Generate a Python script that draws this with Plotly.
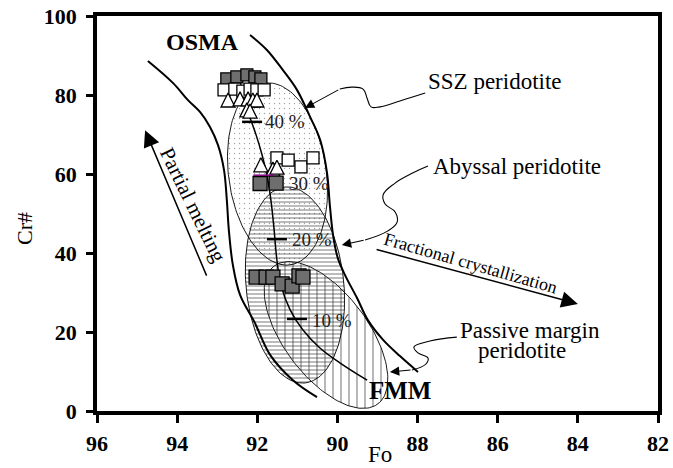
import numpy as np
import plotly.graph_objects as go

# ---------------- data ----------------
fo_ticks = [96, 94, 92, 90, 88, 86, 84, 82]
cr_ticks = [0, 20, 40, 60, 80, 100]

# OSMA band boundaries
osma_left_fo = [94.73, 94.10, 93.73, 93.43, 93.18, 92.98, 92.83, 92.76, 92.71, 92.61, 92.43, 92.06, 91.68, 91.11, 90.51]
osma_left_cr = [88.6, 83.0, 78.7, 75.7, 71.9, 67.3, 61.0, 53.4, 45.8, 37.0, 29.4, 22.3, 14.2, 7.8, 3.5]
osma_right_fo = [92.18, 91.76, 91.36, 91.01, 90.68, 90.43, 90.26, 90.19, 90.11, 89.99, 89.81, 89.51, 89.24, 88.86, 88.44, 87.99]
osma_right_cr = [95.2, 91.4, 86.3, 81.3, 74.4, 68.6, 60.3, 52.2, 44.6, 38.7, 34.4, 28.6, 23.0, 18.0, 13.9, 9.9]

# melting trend from FMM
melt_fo = [92.18, 92.03, 91.88, 91.76, 91.66, 91.58, 91.51, 91.41, 91.18, 90.86, 90.43, 89.94, 89.26]
melt_cr = [74.2, 69.9, 64.8, 59.7, 53.4, 45.8, 38.2, 31.9, 25.6, 20.5, 15.9, 12.2, 7.8]

pct_labels = ["40 %", "30 %", "20 %", "10 %"]
pct_fo = [92.13, 91.85, 91.51, 91.01]
pct_cr = [73.2, 59.7, 43.5, 23.3]
pct_label_fo = [91.86, 91.26, 91.18, 90.68]
pct_label_cr = [73.2, 57.7, 43.5, 23.0]

# peridotite fields: major-axis end points (Fo, Cr#) and half width (Fo units)
field_names = ["Passive margin", "Abyssal", "SSZ"]
field_p1_fo = [91.58, 91.31, 91.81]
field_p1_cr = [36.7, 56.7, 83.0]
field_p2_fo = [88.99, 90.81, 91.18]
field_p2_cr = [1.8, 7.1, 37.0]
field_half_width = [1.05, 1.22, 1.22]

# samples
gray_top_fo = [92.76, 92.51, 92.26, 92.06, 91.91]
gray_top_cr = [84.1, 84.6, 85.1, 84.6, 84.1]
white_sq_fo = [92.83, 92.56, 92.36, 92.18, 92.01, 91.83, 91.51, 91.23, 90.91, 90.61]
white_sq_cr = [81.3, 81.5, 81.0, 81.5, 81.3, 81.3, 64.1, 63.5, 61.8, 64.1]
tri_fo = [92.73, 92.43, 92.23, 92.11, 92.01, 92.26, 92.18, 91.91, 91.61, 91.51]
tri_cr = [80.5, 80.8, 80.8, 80.5, 80.5, 78.0, 77.7, 64.1, 63.0, 63.5]
gray_fo = [91.93, 91.53, 92.03, 91.78, 91.61, 91.38, 91.13, 90.96, 90.86]
gray_cr = [57.6, 57.7, 33.9, 33.9, 33.9, 32.2, 31.6, 34.2, 33.9]

# leader lines
ssz_lead_fo = [87.81, 88.44, 88.94, 89.16, 89.26, 89.36, 89.64, 89.94]
ssz_lead_cr = [80.5, 78.5, 77.0, 77.0, 79.2, 81.5, 82.0, 81.5]
ssz_head = (90.81, 76.7)
aby_lead_fo = [87.74, 88.11, 88.56, 88.86, 88.81, 88.56, 88.51, 88.74, 89.31]
aby_lead_cr = [62.0, 60.3, 57.7, 54.7, 52.4, 50.4, 47.8, 45.6, 43.3]
aby_head = (89.89, 42.0)
pm_lead_fo = [87.02, 87.69, 88.09, 87.99, 87.74, 87.79, 88.14]
pm_lead_cr = [18.7, 17.7, 16.2, 14.7, 13.4, 11.9, 10.4]
pm_head = (88.69, 9.9)

melt_arrow_tail = (93.25, 33.9)
melt_arrow_head = (94.80, 71.1)
fc_arrow_tail = (89.06, 41.0)
fc_arrow_head = (84.00, 27.1)

# ---------------- layout constants ----------------
W, H = 673, 468
ML, MR, MT, MB = 97, 15, 16, 57
PW, PH = W - ML - MR, H - MT - MB
X0, X1 = 96, 82
SX = PW / (X0 - X1)
SY = PH / 100.0
SERIF = "Liberation Serif, Times New Roman, serif"

fig = go.Figure()


def ellipse(p1fo, p1cr, p2fo, p2cr, hw):
    u1, v1 = (X0 - p1fo) * SX, p1cr * SY
    u2, v2 = (X0 - p2fo) * SX, p2cr * SY
    cu, cv = (u1 + u2) / 2, (v1 + v2) / 2
    au, av = (u1 - u2) / 2, (v1 - v2) / 2
    a = np.hypot(au, av)
    b = hw * SX
    nu, nv = -av / a * b, au / a * b
    t = np.linspace(0, 2 * np.pi, 160)
    uu = cu + np.cos(t) * au + np.sin(t) * nu
    vv = cv + np.cos(t) * av + np.sin(t) * nv
    return X0 - uu / SX, vv / SY


patterns = [
    dict(shape="|", size=8, solidity=0.14, fgcolor="black"),
    dict(shape="-", size=4, solidity=0.33, fgcolor="#333"),
    dict(shape=".", size=5, solidity=0.06, fgcolor="#444"),
]
for i in range(3):
    ex, ey = ellipse(field_p1_fo[i], field_p1_cr[i], field_p2_fo[i], field_p2_cr[i], field_half_width[i])
    pat = dict(patterns[i])
    pat["bgcolor"] = "rgba(0,0,0,0)"
    fig.add_trace(go.Scatter(x=ex, y=ey, mode="lines", fill="toself",
                             fillcolor="rgba(0,0,0,0)", fillpattern=pat,
                             line=dict(color="black", width=0.9),
                             hoverinfo="skip", showlegend=False, name=field_names[i]))

# OSMA boundaries
for xs, ys in [(osma_left_fo, osma_left_cr), (osma_right_fo, osma_right_cr)]:
    fig.add_trace(go.Scatter(x=xs, y=ys, mode="lines", line=dict(color="black", width=2, shape="spline"),
                             showlegend=False, hoverinfo="skip"))

# melting trend
fig.add_trace(go.Scatter(x=melt_fo, y=melt_cr, mode="lines", line=dict(color="black", width=1.5, shape="spline"),
                         showlegend=False, hoverinfo="skip"))

# leader lines
for xs, ys in [(ssz_lead_fo, ssz_lead_cr), (aby_lead_fo, aby_lead_cr), (pm_lead_fo, pm_lead_cr)]:
    fig.add_trace(go.Scatter(x=xs, y=ys, mode="lines", line=dict(color="black", width=1.1, shape="spline", smoothing=1.2),
                             showlegend=False, hoverinfo="skip"))

# samples
fig.add_trace(go.Scatter(x=gray_top_fo, y=gray_top_cr, mode="markers",
                         marker=dict(symbol="square", size=12, color="#6e6e6e", line=dict(color="black", width=1.3)),
                         showlegend=False))
fig.add_trace(go.Scatter(x=white_sq_fo, y=white_sq_cr, mode="markers",
                         marker=dict(symbol="square", size=12, color="white", line=dict(color="black", width=1.3)),
                         showlegend=False))
fig.add_trace(go.Scatter(x=tri_fo, y=tri_cr, mode="markers",
                         marker=dict(symbol="arrow-up", size=14, color="white", line=dict(color="black", width=1.3)),
                         showlegend=False))
fig.add_trace(go.Scatter(x=gray_fo, y=gray_cr, mode="markers",
                         marker=dict(symbol="square", size=14, color="#6e6e6e", line=dict(color="black", width=1.3)),
                         showlegend=False))

# percent ticks on the trend
for i in range(len(pct_fo)):
    col = "#800080" if pct_labels[i] == "30 %" else "black"
    fig.add_trace(go.Scatter(x=[pct_fo[i] + 0.25, pct_fo[i] - 0.25], y=[pct_cr[i], pct_cr[i]], mode="lines",
                             line=dict(color=col, width=2.5 if col == "black" else 1.5),
                             showlegend=False, hoverinfo="skip"))

ann = []
for i in range(len(pct_labels)):
    ann.append(dict(x=pct_label_fo[i], y=pct_label_cr[i], text=pct_labels[i], showarrow=False,
                    xanchor="left", yanchor="middle", font=dict(family=SERIF, size=19, color="#222")))

ann += [
    dict(x=93.37, y=93.4, text="<b>OSMA</b>", showarrow=False, font=dict(family=SERIF, size=24, color="black")),
    dict(x=88.44, y=5.1, text="<b>FMM</b>", showarrow=False, font=dict(family=SERIF, size=25, color="black")),
    dict(x=86.08, y=83.3, text="SSZ peridotite", showarrow=False, font=dict(family=SERIF, size=23, color="black")),
    dict(x=85.52, y=62.0, text="Abyssal peridotite", showarrow=False, font=dict(family=SERIF, size=23, color="black")),
    dict(x=85.19, y=20.3, text="Passive margin", showarrow=False, font=dict(family=SERIF, size=23, color="black")),
    dict(x=85.39, y=15.4, text="peridotite", showarrow=False, font=dict(family=SERIF, size=23, color="black")),
    dict(x=93.60, y=52.2, text="Partial melting", showarrow=False, textangle=64,
         font=dict(family=SERIF, size=21, color="black")),
    dict(x=86.69, y=37.5, text="Fractional crystallization", showarrow=False, textangle=16,
         font=dict(family=SERIF, size=18, color="black")),
    # axis titles
    dict(xref="paper", yref="paper", x=(24 - ML) / PW, y=(MT + PH - 229) / PH, text="Cr#", showarrow=False,
         xanchor="center", yanchor="middle", textangle=-90, font=dict(family=SERIF, size=22, color="black")),
    dict(xref="paper", yref="paper", x=(379.5 - ML) / PW, y=(MT + PH - 455) / PH, text="Fo", showarrow=False,
         xanchor="center", yanchor="middle", font=dict(family=SERIF, size=23, color="black")),
]

# arrows
for head, tail, w in [(melt_arrow_head, melt_arrow_tail, 1.5), (fc_arrow_head, fc_arrow_tail, 1.5),
                      (ssz_head, (ssz_lead_fo[-1], ssz_lead_cr[-1]), 1.1),
                      (aby_head, (aby_lead_fo[-1], aby_lead_cr[-1]), 1.1),
                      (pm_head, (pm_lead_fo[-1], pm_lead_cr[-1]), 1.1)]:
    ann.append(dict(x=head[0], y=head[1], ax=tail[0], ay=tail[1], xref="x", yref="y", axref="x", ayref="y",
                    text="", showarrow=True, arrowhead=2, arrowsize=2.2 if w > 1.2 else 1.7,
                    arrowwidth=w, arrowcolor="black", standoff=0))

fig.update_layout(
    width=W, height=H,
    margin=dict(l=ML, r=MR, t=MT, b=MB, pad=0, autoexpand=False),
    paper_bgcolor="white", plot_bgcolor="white",
    showlegend=False,
    annotations=ann,
    xaxis=dict(range=[X0, X1], tickvals=fo_ticks, ticktext=[str(v) for v in fo_ticks], automargin=False,
               showgrid=False, zeroline=False, showline=True, linecolor="black", linewidth=3.5, mirror=True,
               ticks="outside", ticklen=8, tickwidth=3, tickcolor="black", ticklabelstandoff=2,
               tickfont=dict(family=SERIF, size=22, color="black", weight="bold")),
    yaxis=dict(range=[0, 100], tickvals=cr_ticks, ticktext=[str(v) for v in cr_ticks], automargin=False,
               showgrid=False, zeroline=False, showline=True, linecolor="black", linewidth=3.5, mirror=True,
               ticks="outside", ticklen=7, tickwidth=2.5, tickcolor="black", ticklabelstandoff=5,
               tickfont=dict(family=SERIF, size=22, color="black", weight="bold")),
)

fig.write_html("out.html", config={"displayModeBar": False},
               post_script="document.body.style.margin='0px';document.body.style.overflow='hidden';")
